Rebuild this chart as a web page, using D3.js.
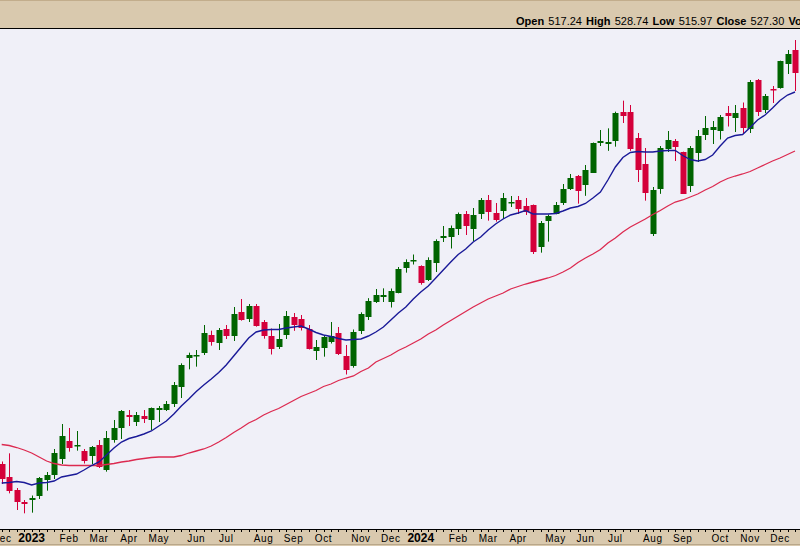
<!DOCTYPE html>
<html>
<head>
<meta charset="utf-8">
<script src="https://cdn.jsdelivr.net/npm/d3@7"></script>
<style>
  html, body { margin: 0; padding: 0; background: #f0f0f8; }
  svg { display: block; }
</style>
</head>
<body>
<svg id="chart" width="800" height="546"></svg>
<script>
// ---- Data (weekly candles, Dec 2022 – Dec 2024) ----
const startWeek = Date.UTC(2022, 11, 5);
const endWeek = Date.UTC(2024, 11, 17);

const open = [282.8,275.0,267.2,260.2,261.5,263.6,273.5,276.2,286.0,296.6,
293.6,290.6,287.8,294.2,279.2,297.2,304.6,312.2,308.0,311.6,
309.2,315.2,315.2,318.8,329.0,346.0,347.6,349.6,360.2,355.6,
363.8,359.6,374.0,370.0,377.6,368.0,359.6,353.2,360.3,371.0,
369.8,363.8,350.7,352.6,356.1,361.4,347.6,341.6,362.6,371.0,
380.0,383.2,380.0,385.6,400.1,404.4,401.6,393.2,403.6,418.6,
419.2,423.8,432.8,423.8,432.8,441.2,433.5,434.8,439.2,441.2,
437.6,438.2,413.2,428.8,432.8,439.4,447.8,455.6,450.3,457.6,
475.6,475.0,476.6,494.0,494.0,478.4,462.8,420.8,447.8,471.8,
476.6,470.0,449.6,469.4,480.2,483.2,482.6,493.4,490.4,496.4,
483.8,513.2,495.2,507.8,508.4,522.8,531.2];

const high = [284.3,289.2,268.4,261.2,263.9,275.0,278.0,291.8,306.8,304.4,
302.6,291.8,293.6,297.2,302.6,309.2,315.2,315.2,314.0,315.2,
316.7,317.6,320.6,332.0,343.2,349.6,351.2,366.2,362.8,364.4,
366.2,377.0,381.8,378.8,378.8,369.2,364.1,366.8,374.6,373.4,
372.2,366.2,357.2,360.2,368.0,365.0,354.2,363.5,373.8,382.3,
387.8,388.2,388.1,401.0,405.6,408.5,402.0,406.8,417.6,425.6,
425.9,433.7,434.6,436.4,442.4,444.2,439.4,445.4,443.6,443.6,
442.4,438.5,428.6,432.5,440.0,450.8,456.8,456.2,462.2,475.7,
483.2,484.2,494.2,500.8,498.2,481.4,472.4,449.0,473.6,482.6,
477.8,470.2,473.6,483.2,491.6,488.6,492.2,497.6,498.2,499.7,
513.2,513.8,504.8,509.6,524.8,531.2,537.2];

const low = [270.8,265.2,255.2,253.2,253.6,261.8,266.8,273.8,282.8,290.2,
290.8,283.1,282.8,280.4,278.2,295.6,297.8,305.6,305.6,307.4,
303.2,308.0,314.6,317.0,322.4,339.6,341.2,348.2,353.8,351.2,
357.8,356.6,368.8,368.0,365.2,358.0,348.5,351.8,357.8,362.7,
362.9,351.5,345.2,347.2,355.1,348.2,336.5,340.6,360.8,369.2,
379.4,380.0,376.7,385.2,397.6,402.5,390.4,392.6,398.0,416.0,
412.1,420.2,420.2,416.6,429.8,428.8,428.2,429.8,437.0,432.8,
432.2,408.8,409.6,416.2,432.6,438.2,447.2,439.0,443.7,457.4,
473.6,470.7,473.2,487.4,470.7,452.0,440.8,419.6,444.9,470.0,
464.6,444.8,446.0,464.0,477.2,474.8,477.5,485.3,482.0,480.8,
481.4,491.6,493.4,499.4,508.0,516.8,506.6];

const close = [273.8,266.8,260.2,259.0,262.7,274.4,276.4,289.4,299.6,292.6,
294.2,284.8,293.0,281.2,298.4,304.4,314.6,311.2,312.2,309.8,
316.4,316.4,318.8,330.2,342.2,348.0,348.2,361.6,356.2,363.2,
359.8,372.8,369.2,377.6,365.8,359.8,352.0,357.8,371.6,366.3,
364.6,351.9,353.1,359.0,359.7,348.9,339.2,362.0,372.8,380.6,
384.2,384.2,386.6,399.8,404.0,405.2,391.6,405.2,416.6,419.6,
424.4,432.8,425.8,432.2,441.2,434.0,429.3,442.4,440.0,436.0,
434.2,410.0,427.4,431.6,438.2,447.8,454.4,446.8,459.2,475.5,
476.6,476.0,493.4,491.6,471.8,459.2,445.6,447.2,472.4,477.2,
473.1,445.0,472.4,479.6,484.4,485.0,491.0,491.6,493.4,484.4,
512.0,494.0,503.6,507.2,524.6,528.8,517.2];

// 10-week moving average (blue)
const ma10 = [271.4,271.7,272.3,271.7,270.2,271.4,271.7,272.6,275.0,275.9,
276.8,279.2,281.9,284.0,288.2,292.4,296.0,298.1,299.3,300.8,
302.6,305.6,308.6,312.8,317.6,321.8,326.3,330.2,333.8,337.7,
342.2,347.6,353.0,358.4,362.0,363.2,363.5,363.5,364.4,365.0,
365.6,363.8,361.7,360.2,359.3,358.1,357.2,357.5,357.8,359.6,
362.0,365.0,369.2,373.4,377.0,381.8,386.0,389.6,394.4,399.2,
404.0,408.5,411.8,416.0,419.0,423.2,426.8,429.8,432.2,433.4,
434.9,432.8,432.8,432.8,433.1,434.6,436.4,437.3,439.1,442.4,
446.0,453.2,461.0,466.7,469.7,470.3,470.0,470.0,470.6,470.9,
470.9,467.9,465.5,464.6,465.5,468.2,473.6,478.4,479.9,480.5,
484.7,489.2,492.2,496.4,500.9,504.2,506.0];

// 40-week moving average (red)
const ma40 = [294.5,293.9,292.7,291.2,289.4,287.0,284.6,283.1,282.2,281.9,
281.9,281.9,281.9,281.9,282.5,283.1,284.0,284.6,285.5,286.1,
286.7,287.0,287.0,287.0,287.9,289.4,290.6,291.8,293.6,296.0,
298.7,301.7,304.4,307.4,309.5,312.2,314.3,316.1,318.5,320.9,
323.3,325.1,326.9,329.3,330.8,332.9,334.4,335.6,338.3,340.4,
344.0,346.1,348.2,350.9,353.0,355.4,357.8,360.8,363.2,366.2,
368.9,371.6,374.3,377.0,379.4,381.8,383.6,385.4,387.8,389.3,
390.8,392.0,393.2,394.4,395.9,398.0,400.4,403.7,406.4,408.8,
411.5,415.4,418.4,422.0,425.0,427.4,429.8,432.5,434.9,437.6,
440.0,441.2,443.0,444.8,447.2,449.3,452.0,454.1,455.6,456.8,
458.3,460.4,462.5,464.6,466.4,468.5,470.6];

const headerLabels = ["Open", "High", "Low", "Close", "Vol"];
const headerValues = ["517.24", "528.74", "515.97", "527.30", "12,345,678"];
const monthNames = ["Jan","Feb","Mar","Apr","May","Jun","Jul","Aug","Sep","Oct","Nov","Dec"];

// ---- Layout ----
const W = 800, H = 546;
const headerH = 28, axisTop = 529;
const svg = d3.select("#chart");

const dates = d3.utcMonday.range(startWeek, endWeek);
const idx = d3.range(dates.length);

const x = d3.scaleLinear().domain([-0.227, 106.67]).range([0, W]);
const y = d3.scaleLinear().domain([245, 543.8]).range([527, 29]);

const TAN = "#d9c9ae";
const UP = "#006400", DOWN = "#d4003a";

// backgrounds
svg.append("rect").attr("x", 0).attr("y", 0).attr("width", W).attr("height", H).attr("fill", "#f0f0f8");
svg.append("rect").attr("x", 0).attr("y", 0).attr("width", W).attr("height", headerH).attr("fill", TAN);
svg.append("line").attr("x1", 0).attr("x2", W).attr("y1", 0.5).attr("y2", 0.5).attr("stroke", "#c2ad8c");
svg.append("line").attr("x1", 0).attr("x2", W).attr("y1", headerH + 0.5).attr("y2", headerH + 0.5).attr("stroke", "#000");

// header text
const ht = svg.append("text").attr("x", 516).attr("y", 25)
  .attr("font-family", "'Liberation Sans', Arial, sans-serif").attr("font-size", 11).attr("fill", "#000")
  .attr("word-spacing", 1.1)
  .attr("xml:space", "preserve");
headerLabels.forEach((lab, i) => {
  ht.append("tspan").attr("font-weight", "bold").text((i ? " " : "") + lab);
  ht.append("tspan").text(" " + headerValues[i]);
});

// plot group
const plot = svg.append("g");

// candles
const cg = plot.append("g").selectAll("g").data(idx).join("g");
cg.append("line")
  .attr("x1", i => Math.round(x(i)) + 0.5).attr("x2", i => Math.round(x(i)) + 0.5)
  .attr("y1", i => y(high[i])).attr("y2", i => y(low[i]))
  .attr("stroke", i => close[i] >= open[i] ? UP : DOWN).attr("stroke-width", 1);
cg.append("rect")
  .attr("x", i => Math.round(x(i)) - 2.5)
  .attr("width", 6)
  .attr("y", i => Math.round(y(Math.max(open[i], close[i]))))
  .attr("height", i => Math.max(1.5, Math.round(Math.abs(y(open[i]) - y(close[i])))))
  .attr("fill", i => close[i] >= open[i] ? UP : DOWN);

// moving averages
const line = d3.line().x((d, i) => x(i)).y(d => y(d));
plot.append("path").datum(ma40).attr("d", line).attr("fill", "none")
  .attr("stroke", "#dc2a50").attr("stroke-width", 1.3);
plot.append("path").datum(ma10).attr("d", line).attr("fill", "none")
  .attr("stroke", "#1a1a98").attr("stroke-width", 1.4);

// bottom axis band
svg.append("rect").attr("x", 0).attr("y", axisTop).attr("width", W).attr("height", H - axisTop).attr("fill", TAN);
svg.append("line").attr("x1", 0).attr("x2", W).attr("y1", axisTop + 0.5).attr("y2", axisTop + 0.5).attr("stroke", "#000");
svg.append("line").attr("x1", 0).attr("x2", W).attr("y1", H - 1.5).attr("y2", H - 1.5).attr("stroke", "#b9a78a");

// weekly ticks
svg.append("g").selectAll("line").data(idx).join("line")
  .attr("x1", i => Math.round(x(i)) + 0.5).attr("x2", i => Math.round(x(i)) + 0.5)
  .attr("y1", axisTop + 1).attr("y2", axisTop + 3).attr("stroke", "#000");

// month labels: first week of each month
const monthIdx = idx.filter(i => i === 0 || dates[i].getUTCMonth() !== dates[i - 1].getUTCMonth());
svg.append("g").selectAll("text").data(monthIdx).join("text")
  .attr("x", i => x(i)).attr("y", 541.5)
  .attr("text-anchor", "middle")
  .attr("font-family", "'Liberation Sans', Arial, sans-serif")
  .attr("font-size", i => dates[i].getUTCMonth() === 0 ? 12 : 10)
  .attr("font-weight", i => dates[i].getUTCMonth() === 0 ? "bold" : "normal")
  .attr("letter-spacing", i => dates[i].getUTCMonth() === 0 ? 0 : 0.6)
  .attr("fill", "#000")
  .text(i => dates[i].getUTCMonth() === 0 ? String(dates[i].getUTCFullYear()) : monthNames[dates[i].getUTCMonth()]);
</script>
</body>
</html>
